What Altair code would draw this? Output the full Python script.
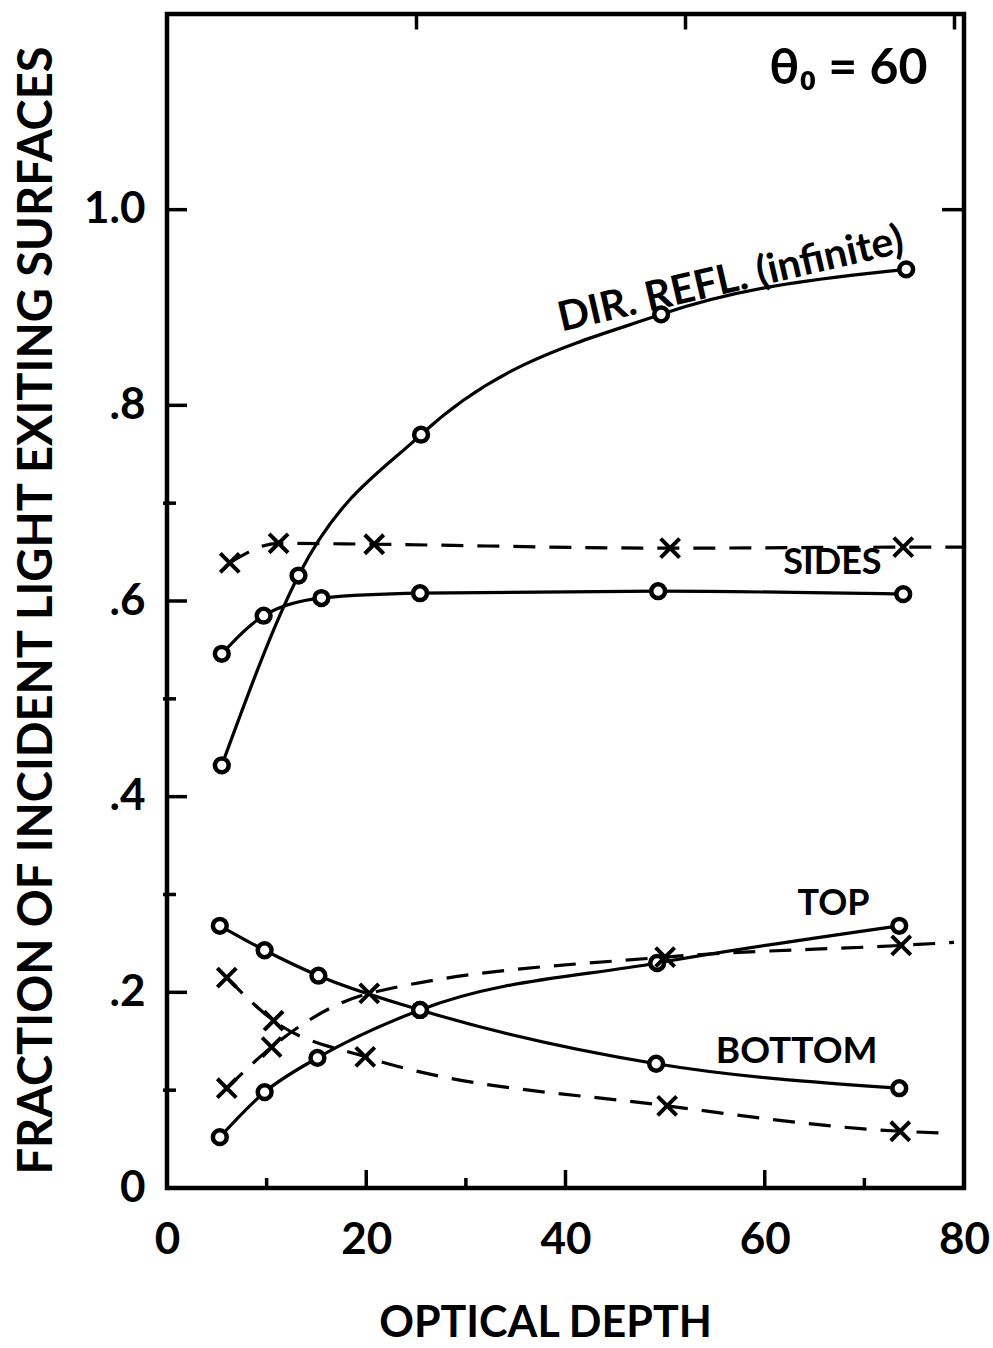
import altair as alt
import pandas as pd

# ---- data (x = optical depth, y = fraction) ----
dir_x = [5.5, 13.2, 25.5, 49.6, 74.2]
dir_y = [0.432, 0.626, 0.770, 0.893, 0.939]

sides_c_x = [5.5, 9.7, 15.5, 25.4, 49.3, 73.9]
sides_c_y = [0.546, 0.585, 0.603, 0.608, 0.610, 0.607]

sides_x_x = [6.3, 11.2, 20.8, 50.5, 73.9]
sides_x_y = [0.639, 0.659, 0.658, 0.654, 0.655]
sides_x_end = [80.0, 0.655]

top_c_x = [5.3, 9.8, 15.1, 25.4, 49.2, 73.5]
top_c_y = [0.052, 0.098, 0.133, 0.182, 0.230, 0.268]

top_x_x = [6.0, 10.5, 20.3, 50.0, 73.7]
top_x_y = [0.102, 0.144, 0.199, 0.236, 0.248]
top_x_end = [79.0, 0.251]

bot_c_x = [5.3, 9.8, 15.2, 25.4, 49.1, 73.5]
bot_c_y = [0.268, 0.243, 0.217, 0.182, 0.127, 0.102]

bot_x_x = [6.0, 10.7, 19.9, 50.2, 73.6]
bot_x_y = [0.215, 0.171, 0.134, 0.084, 0.058]
bot_x_end = [78.5, 0.056]

x_tick_values = [0, 20, 40, 60, 80]
y_tick_values = [0, 0.2, 0.4, 0.6, 0.8, 1.0]
y_tick_labels = ["0", ".2", ".4", ".6", ".8", "1.0"]
x_major_ticks = [20, 40, 60]
x_minor_ticks = [10, 30, 70]
y_major_ticks = [0.2, 0.4, 0.6, 0.8, 1.0]
y_minor_ticks = [0.1, 0.3, 0.5, 0.7]
top_ticks = [25, 52, 79]
right_ticks = [1.0]

labels = ["θ₀ = 60", "DIR. REFL. (infinite)", "SIDES", "TOP", "BOTTOM"]
label_x = [68.4, 56.6, 66.8, 66.9, 63.2]
label_y = [1.144, 0.928, 0.639, 0.290, 0.139]
label_angle = [0, 347, 0, 0, 0]
label_size = [50, 41, 36, 36, 37]

# ---- build tables ----
line_rows = []
pt_rows = []
def add(name, xs, ys, style, marker, end=None):
    for a, b in zip(xs, ys):
        line_rows.append({"x": a, "y": b, "series": name, "style": style})
        pt_rows.append({"x": a, "y": b, "series": name, "marker": marker})
    if end is not None:
        line_rows.append({"x": end[0], "y": end[1], "series": name, "style": style})

add("dir", dir_x, dir_y, "solid", "circle")
add("sides_c", sides_c_x, sides_c_y, "solid", "circle")
add("sides_x", sides_x_x, sides_x_y, "dashed", "cross", sides_x_end)
add("top_c", top_c_x, top_c_y, "solid", "circle")
add("top_x", top_x_x, top_x_y, "dashed", "cross", top_x_end)
add("bot_c", bot_c_x, bot_c_y, "solid", "circle")
add("bot_x", bot_x_x, bot_x_y, "dashed", "cross", bot_x_end)

lines = pd.DataFrame(line_rows)
pts = pd.DataFrame(pt_rows)
lab = pd.DataFrame({"text": labels, "x": label_x, "y": label_y,
                    "angle": label_angle, "size": label_size})

W, H = 797, 1174
FONT = "Lato, DejaVu Sans, sans-serif"

label_expr = "[" + ",".join("'%s'" % s for s in y_tick_labels) + "][round(datum.value*5)]"

xs = alt.Scale(domain=[0, 80], nice=False, zero=False)
ys = alt.Scale(domain=[0, 1.2], nice=False, zero=False)

x_enc = alt.X("x:Q", scale=xs, axis=alt.Axis(
    values=x_tick_values, ticks=False, tickSize=0, domain=False, grid=False,
    labelFont=FONT, labelFontSize=44, labelFontWeight="bold", labelColor="black",
    labelPadding=30, labelFlush=False,
    title="OPTICAL DEPTH", titleFont=FONT, titleFontSize=43, titleFontWeight="bold",
    titleColor="black", titleX=378, titleY=135, titleBaseline="middle", titleAlign="center"))
y_enc = alt.Y("y:Q", scale=ys, axis=alt.Axis(
    values=y_tick_values, labelExpr=label_expr, ticks=False, tickSize=0, domain=False,
    grid=False, labelFont=FONT, labelFontSize=44, labelFontWeight="bold",
    labelColor="black", labelPadding=22, labelFlush=False,
    title="FRACTION OF INCIDENT LIGHT EXITING SURFACES", titleFont=FONT,
    titleFontSize=47, titleFontWeight="bold", titleColor="black",
    titleX=-130, titleY=596, titleAngle=270, titleBaseline="middle", titleAlign="center"))

def X(field):
    return alt.X(field, axis=None)

base_lines = alt.Chart(lines)
solid = base_lines.transform_filter("datum.style == 'solid'").mark_line(
    interpolate="monotone", color="black", strokeWidth=3.2).encode(
    x=x_enc, y=y_enc, detail="series:N")
dashed = base_lines.transform_filter("datum.style == 'dashed'").mark_line(
    interpolate="monotone", color="black", strokeWidth=3.2, strokeDash=[22, 14]).encode(
    x=X("x:Q"), y="y:Q", detail="series:N")

circles = alt.Chart(pts).transform_filter("datum.marker == 'circle'").mark_point(
    shape="circle", filled=True, fill="white", stroke="black", strokeWidth=4.5,
    size=190, opacity=1).encode(x=X("x:Q"), y="y:Q")
crosses = alt.Chart(pts).transform_filter("datum.marker == 'cross'").mark_point(
    shape="M-1,-1L1,1M-1,1L1,-1", filled=False, stroke="black", strokeWidth=4,
    size=360, opacity=1).encode(x=X("x:Q"), y="y:Q")

def vrules(vals, y0, y1):
    return alt.Chart(pd.DataFrame({"tx": vals})).mark_rule(
        color="black", strokeWidth=3.5).encode(
        x=X("tx:Q"), y=alt.value(y0), y2=alt.value(y1))

def hrules(vals, x0, x1):
    return alt.Chart(pd.DataFrame({"ty": vals})).mark_rule(
        color="black", strokeWidth=3.5).encode(
        y="ty:Q", x=alt.value(x0), x2=alt.value(x1))

# top ticks: an unlabeled top axis pulled into the frame
top_axis_layer = alt.Chart(pd.DataFrame({"tx": top_ticks})).mark_point(
    opacity=0).encode(
    x=alt.X("tx:Q", axis=alt.Axis(
        orient="top", values=top_ticks, labels=False, domain=False, grid=False,
        ticks=True, tickSize=15, tickWidth=3.5, tickColor="black", offset=-15,
        title=None)),
    y=alt.Y("ty:Q", axis=None) if False else alt.value(0))

ticks = [
    vrules(x_major_ticks, H, H - 18),
    vrules(x_minor_ticks, H, H - 10),
    hrules(y_major_ticks, 0, 20),
    hrules(y_minor_ticks, -4, 9),
    hrules(right_ticks, W - 22, W),
]

texts = alt.Chart(lab).mark_text(
    font=FONT, fontWeight="bold", color="black", align="center",
    baseline="middle").encode(
    x=X("x:Q"), y="y:Q", text="text:N",
    angle=alt.Angle("angle:Q", scale=None),
    size=alt.Size("size:Q", scale=None))

chart = alt.layer(solid, dashed, *ticks, top_axis_layer, circles, crosses, texts).resolve_axis(
    x="independent").properties(
    width=W, height=H,
    padding={"left": 167, "top": 14, "right": 29, "bottom": 160},
    autosize="none",
    background="white",
).configure_view(stroke="black", strokeWidth=4.5)

chart.save("out.html", embed_options={"renderer": "svg", "actions": False})
